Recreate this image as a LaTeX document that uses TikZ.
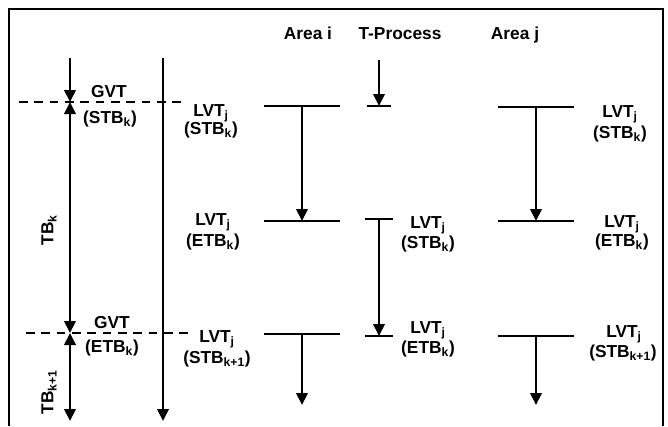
\documentclass[tikz,border=0pt]{standalone}
\usepackage{fontspec}
\setmainfont{Liberation Sans}
\usetikzlibrary{arrows.meta}

\begin{document}
\begin{tikzpicture}[x=0.75pt,y=-0.75pt,
  >={Triangle[length=9pt,width=8.5pt]},
  level/.style={line width=2.2pt},
  flow/.style={line width=2pt,->},
  gvtline/.style={line width=2.1pt,dash pattern=on 6.5pt off 5pt},
  tag/.style={font=\bfseries\fontsize{13}{15}\selectfont,anchor=base,inner sep=0pt}]
  \useasboundingbox (0,0) rectangle (668,426);
  % frame, open at the bottom
  \draw[line width=1.1pt] (9,426) -- (9,9) -- (663,9) -- (663,426);

  % headers
  \node[tag] (hai) at (308,39) {Area i};
  \node[tag] (htp) at (400,39) {T-Process};
  \node[tag] (haj) at (515,39) {Area j};

  % global time line
  \coordinate (g0) at (70,58);
  \coordinate (g1) at (70,102);
  \coordinate (g2) at (70,333);
  \coordinate (g3) at (70,421);
  \draw[flow] (g0) -- (g1);
  \draw[flow,<->] (g1) -- (g2);
  \draw[flow,<->] (g2) -- (g3);
  \coordinate (v0) at (163,58);
  \coordinate (v1) at (163,421);
  \draw[flow] (v0) -- (v1);
  \draw[gvtline] (19,102) -- (181,102);
  \draw[gvtline] (26,333) -- (188,333);

  \node[tag,anchor=center,rotate=90] (tbk) at (49,230) {TB\textsubscript{k}};
  \node[tag,anchor=center,rotate=90] (tbk1) at (49,392) {TB\textsubscript{k+1}};
  \node[tag] (gvt1) at (109,97) {GVT};
  \node[tag] (gstb) at (110,123) {(STB\textsubscript{k})};
  \node[tag] (gvt2) at (112,328) {GVT};
  \node[tag] (getb) at (112,352) {(ETB\textsubscript{k})};

  % Area i
  \draw[level] (264,106) -- coordinate (ai1) (340,106);
  \draw[level] (264,221) -- coordinate (ai2) (340,221);
  \draw[level] (264,334) -- coordinate (ai3) (340,334);
  \coordinate (ai4) at (302,405);
  \draw[flow] (ai1) -- (ai2);
  \draw[flow] (ai3) -- (ai4);
  \node[tag] (li1) at (211,116) {LVT\textsubscript{j}};
  \node[tag] (li1s) at (211,134) {(STB\textsubscript{k})};
  \node[tag] (li2) at (213,225) {LVT\textsubscript{j}};
  \node[tag] (li2s) at (213,246) {(ETB\textsubscript{k})};
  \node[tag] (li3) at (217,342) {LVT\textsubscript{j}};
  \node[tag] (li3s) at (217,363) {(STB\textsubscript{k+1})};

  % T-Process
  \coordinate (tp0) at (379,60);
  \draw[level] (367,106) -- coordinate (tp1) (391,106);
  \draw[level] (365,219) -- coordinate (tp2) (393,219);
  \draw[level] (365,336) -- coordinate (tp3) (393,336);
  \draw[flow] (tp0) -- (tp1);
  \draw[flow] (tp2) -- (tp3);
  \node[tag] (lt1) at (428,228) {LVT\textsubscript{j}};
  \node[tag] (lt1s) at (428,248) {(STB\textsubscript{k})};
  \node[tag] (lt2) at (428,333) {LVT\textsubscript{j}};
  \node[tag] (lt2s) at (428,353) {(ETB\textsubscript{k})};

  % Area j
  \draw[level] (498,107) -- coordinate (aj1) (574,107);
  \draw[level] (498,221) -- coordinate (aj2) (574,221);
  \draw[level] (498,336) -- coordinate (aj3) (574,336);
  \coordinate (aj4) at (536,405);
  \draw[flow] (aj1) -- (aj2);
  \draw[flow] (aj3) -- (aj4);
  \node[tag] (lj1) at (620,117) {LVT\textsubscript{j}};
  \node[tag] (lj1s) at (620,138) {(STB\textsubscript{k})};
  \node[tag] (lj2) at (622,227) {LVT\textsubscript{j}};
  \node[tag] (lj2s) at (622,246) {(ETB\textsubscript{k})};
  \node[tag] (lj3) at (624,337) {LVT\textsubscript{j}};
  \node[tag] (lj3s) at (623,357) {(STB\textsubscript{k+1})};
\end{tikzpicture}
\end{document}
